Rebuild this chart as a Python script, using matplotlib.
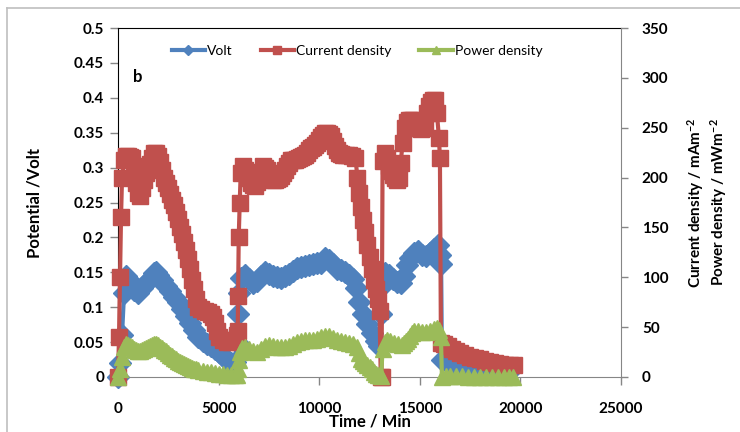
import matplotlib
matplotlib.use("Agg")
import matplotlib.pyplot as plt
from matplotlib.lines import Line2D

plt.rcParams["font.family"] = ["Lato", "DejaVu Sans"]
plt.rcParams["mathtext.fontset"] = "custom"
plt.rcParams["mathtext.rm"] = "Lato:bold"
plt.rcParams["mathtext.default"] = "rm"

# Volt (left axis)
t_volt = [0, 100, 200, 300, 400, 600, 800, 1000, 1200, 1400, 1600, 1800, 1900, 2000,
          2200, 2400, 2600, 2800, 3000, 3200, 3400, 3600, 3800, 4000, 4200, 4400,
          4600, 4800, 5000, 5200, 5400, 5600, 5800, 5920, 5960, 6000, 6100, 6300,
          6500, 6700, 6900, 7100, 7300, 7500, 7700, 7900, 8100, 8300, 8500, 8700,
          8900, 9100, 9300, 9500, 9700, 9900, 10100, 10300, 10500, 10700, 10900,
          11100, 11300, 11500, 11700, 11850, 12000, 12200, 12400, 12600, 12800,
          12950, 13050, 13120, 13250, 13450, 13650, 13850, 14050, 14200, 14350,
          14500, 14700, 14900, 15100, 15300, 15500, 15700, 15900, 16000, 16060,
          16100, 16300, 16500, 16700, 16900, 17100, 17300, 17500, 17700, 17900,
          18100, 18300, 18500, 18700, 18900, 19100, 19300, 19480]
volt = [0, 0.02, 0.06, 0.12, 0.145, 0.138, 0.125, 0.12, 0.127, 0.135, 0.14, 0.149,
        0.15, 0.146, 0.139, 0.131, 0.123, 0.115, 0.107, 0.098, 0.088, 0.078, 0.068,
        0.058, 0.052, 0.047, 0.044, 0.04, 0.036, 0.03, 0.024, 0.02, 0.022, 0.05,
        0.09, 0.12, 0.142, 0.146, 0.14, 0.134, 0.138, 0.144, 0.15, 0.148, 0.145,
        0.143, 0.142, 0.144, 0.148, 0.152, 0.156, 0.158, 0.159, 0.16, 0.162, 0.163,
        0.164, 0.17, 0.167, 0.162, 0.155, 0.153, 0.15, 0.146, 0.14, 0.128, 0.108,
        0.09, 0.076, 0.063, 0.052, 0.045, 0.09, 0.13, 0.149, 0.146, 0.14, 0.136,
        0.134, 0.145, 0.16, 0.17, 0.178, 0.18, 0.175, 0.173, 0.178, 0.183, 0.189,
        0.175, 0.162, 0.025, 0.023, 0.022, 0.02, 0.018, 0.017, 0.016, 0.015, 0.014,
        0.013, 0.013, 0.012, 0.012, 0.011, 0.011, 0.01, 0.009, 0.008]

# Current density (right axis)
t_current = [0, 50, 100, 150, 200, 300, 400, 500, 600, 700, 800, 900, 1000, 1100,
             1200, 1300, 1400, 1500, 1600, 1700, 1800, 1900, 2000, 2100, 2200, 2300,
             2400, 2500, 2600, 2700, 2800, 2900, 3000, 3100, 3200, 3300, 3400, 3500,
             3600, 3700, 3800, 3900, 4000, 4150, 4300, 4450, 4600, 4700, 4800, 4900,
             5000, 5200, 5400, 5600, 5800, 5900, 5950, 5970, 6000, 6050, 6100, 6200,
             6300, 6400, 6500, 6600, 6700, 6800, 6900, 7000, 7100, 7200, 7300, 7400,
             7500, 7600, 7700, 7800, 7900, 8000, 8100, 8200, 8300, 8400, 8500, 8600,
             8700, 8800, 8900, 9000, 9100, 9200, 9300, 9400, 9500, 9600, 9700, 9800,
             9900, 10000, 10100, 10200, 10300, 10400, 10500, 10600, 10700, 10800,
             10900, 11000, 11100, 11200, 11350, 11500, 11650, 11800, 11900, 12000,
             12100, 12200, 12300, 12400, 12500, 12600, 12700, 12800, 12900, 13000,
             13060, 13100, 13150, 13250, 13350, 13450, 13550, 13650, 13750, 13850,
             13950, 14050, 14150, 14250, 14350, 14450, 14550, 14650, 14750, 14850,
             14950, 15050, 15150, 15250, 15350, 15450, 15550, 15650, 15750, 15850,
             15950, 16000, 16050, 16200, 16400, 16600, 16800, 17000, 17250, 17500,
             17750, 18000, 18250, 18500, 18750, 19000, 19250, 19500, 19700]
current = [0, 40, 100, 160, 200, 218, 222, 222, 221, 220, 212, 195, 185, 182, 190,
           198, 205, 209, 214, 220, 225, 225, 222, 216, 208, 200, 195, 190, 184, 178,
           172, 165, 158, 150, 143, 135, 127, 118, 108, 97, 88, 78, 70, 68, 66, 65,
           63, 60, 54, 46, 40, 37, 35, 35, 37, 42, 46, 81, 140, 175, 205, 212, 208,
           205, 200, 195, 193, 192, 196, 200, 206, 212, 210, 208, 204, 200, 198, 198,
           199, 200, 202, 205, 208, 212, 215, 218, 218, 218, 219, 220, 221, 222, 223,
           225, 228, 230, 231, 233, 235, 238, 241, 243, 245, 245, 244, 242, 237, 232,
           228, 225, 224, 223, 223, 223, 222, 220, 200, 185, 170, 157, 145, 132, 120,
           108, 97, 88, 78, 66, 0, 0, 217, 225, 220, 212, 207, 203, 200, 198, 200, 215,
           235, 250, 256, 258, 258, 258, 256, 254, 250, 249, 250, 255, 265, 272, 276,
           278, 278, 265, 240, 220, 34, 33, 31, 28, 26, 24, 22, 20, 19, 18, 16, 15, 14,
           13, 12, 12, 12]

# Power density (right axis)
t_power = [0, 100, 200, 300, 400, 500, 600, 700, 800, 900, 1000, 1100, 1200, 1300,
           1400, 1500, 1600, 1700, 1800, 1900, 2000, 2100, 2200, 2300, 2400, 2500,
           2600, 2700, 2800, 2900, 3000, 3100, 3200, 3300, 3400, 3500, 3600, 3700,
           3800, 3900, 4000, 4200, 4400, 4600, 4800, 5000, 5200, 5400, 5600, 5800,
           5900, 5960, 6000, 6050, 6150, 6300, 6500, 6700, 6900, 7100, 7300, 7500,
           7700, 7900, 8100, 8300, 8500, 8700, 8900, 9100, 9300, 9500, 9700, 9900,
           10100, 10300, 10500, 10700, 10900, 11100, 11300, 11500, 11700, 11900,
           12000, 12100, 12200, 12300, 12400, 12500, 12600, 12700, 12800, 12900,
           13000, 13080, 13150, 13250, 13350, 13500, 13700, 13900, 14100, 14200,
           14300, 14400, 14500, 14600, 14700, 14900, 15100, 15300, 15500, 15700,
           15850, 15950, 16050, 16100, 16300, 16500, 16800, 17100, 17400, 17700,
           18000, 18300, 18600, 18900, 19200, 19450, 19650]
power = [0, 8, 20, 30, 33, 32, 31, 30, 28, 27, 26, 26, 27, 28, 29, 30, 31, 32, 33, 33,
         32, 30, 29, 27, 26, 24, 22, 21, 19, 18, 16, 15, 14, 13, 12, 11, 10, 9, 8, 8,
         7, 6, 5, 5, 4, 3, 3, 2, 2, 2, 2, 8, 17, 25, 29, 30, 28, 26, 25, 28, 31, 32,
         31, 30, 30, 30, 31, 33, 35, 36, 37, 37, 37, 38, 40, 41, 41, 39, 37, 36, 35,
         34, 33, 30, 24, 18, 16, 14, 12, 10, 8, 5, 3, 2, 2, 1, 28, 35, 37, 36, 34, 33,
         32, 34, 36, 38, 41, 44, 46, 46, 45, 45, 46, 48, 49, 47, 40, 0, 1, 1, 1, 1,
         0.5, 0.5, 0.5, 0.5, 0.4, 0.3, 0.3, 0.3, 0.3]

series_labels = ["Volt", "Current density", "Power density"]
x_ticks = [0, 5000, 10000, 15000, 20000, 25000]
left_ticks = [0, 0.05, 0.1, 0.15, 0.2, 0.25, 0.3, 0.35, 0.4, 0.45, 0.5]
left_tick_labels = ["0", "0.05", "0.1", "0.15", "0.2", "0.25", "0.3", "0.35",
                    "0.4", "0.45", "0.5"]
right_ticks = [0, 50, 100, 150, 200, 250, 300, 350]

BLUE = "#4F81BD"
RED = "#C0504D"
GREEN = "#9BBB59"
GREY = "#868686"

fig = plt.figure(figsize=(7.4, 4.32), dpi=100)
ax = fig.add_axes([118 / 740, 55 / 432, 503 / 740, 349 / 432])
ax2 = ax.twinx()

l1, = ax.plot(t_volt, volt, color=BLUE, lw=3, marker="D", ms=11,
              label=series_labels[0], clip_on=False, zorder=2)
l2, = ax2.plot(t_current, current, color=RED, lw=3, marker="s", ms=12,
               label=series_labels[1], clip_on=False, zorder=3)
l3, = ax2.plot(t_power, power, color=GREEN, lw=3, marker="^", ms=11,
               label=series_labels[2], clip_on=False, zorder=4)

ax.set_xlim(0, 25000)
ax.set_ylim(0, 0.5)
ax2.set_ylim(0, 350)

ax.set_xticks(x_ticks)
ax.set_xticklabels([str(v) for v in x_ticks], fontsize=11, fontweight="bold")
ax.set_yticks(left_ticks)
ax.set_yticklabels(left_tick_labels, fontsize=11, fontweight="bold")
ax2.set_yticks(right_ticks)
ax2.set_yticklabels([str(v) for v in right_ticks], fontsize=11, fontweight="bold")

ax.tick_params(axis="both", direction="out", length=6, color=GREY, width=1, pad=4)
ax.tick_params(axis="x", pad=12)
ax2.tick_params(axis="y", direction="out", length=5, color=GREY, width=1, pad=10)

for side in ["top", "left"]:
    ax.spines[side].set_color("black")
ax.spines["bottom"].set_color(GREY)
ax.spines["right"].set_visible(False)
for side in ["top", "left", "bottom"]:
    ax2.spines[side].set_visible(False)
ax2.spines["right"].set_color(GREY)

ax.set_xlabel("Time / Min", fontsize=12, fontweight="bold", labelpad=-2)
ax.set_ylabel("Potential /Volt", fontsize=12, fontweight="bold")
ax.yaxis.set_label_coords(-0.151, 0.5)
ax2.text(1.171, 0.5, "Current density / mAm$^{-2}$\nPower density / mWm$^{-2}$",
         transform=ax2.transAxes, rotation=90, ha="center", va="center",
         fontsize=11, fontweight="bold", linespacing=1.15)

ax.text(0.03, 0.845, "b", transform=ax.transAxes, fontsize=12, fontweight="bold")

fig.legend([l1, l2, l3], series_labels, loc="center",
           bbox_to_anchor=(357 / 740, 1 - 51 / 432), ncol=3, frameon=False,
           fontsize=10, markerscale=0.5, handlelength=2.4, handletextpad=0.15,
           columnspacing=2.0)

# light grey frame around the chart area
fig.add_artist(Line2D([7 / 740, 7 / 740], [0, 1 - 8 / 432], color="#BFBFBF",
                      lw=1.2, transform=fig.transFigure))
fig.add_artist(Line2D([7 / 740, 1], [1 - 8 / 432, 1 - 8 / 432], color="#BFBFBF",
                      lw=1.2, transform=fig.transFigure))

fig.savefig("out.png", dpi=100)
